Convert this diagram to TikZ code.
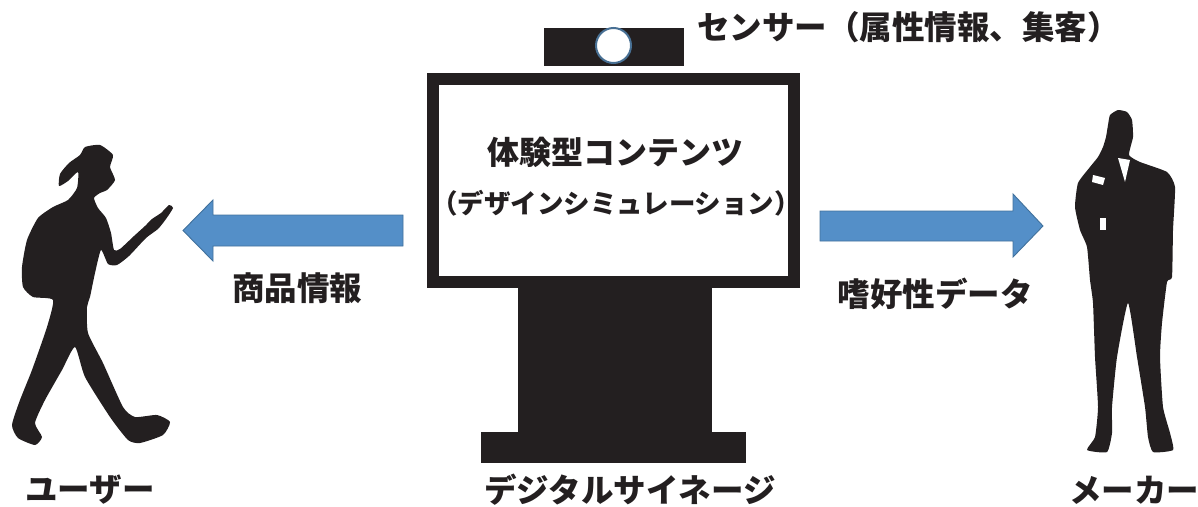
\documentclass[tikz,border=0pt]{standalone}
\usepackage{fontspec}
\setmainfont{Noto Sans CJK JP}
\usepackage{tikz}
\usetikzlibrary{positioning}
\definecolor{ink}{RGB}{35, 31, 32}
\definecolor{flowfill}{RGB}{84, 143, 200}
\definecolor{flowline}{RGB}{65, 113, 156}
\definecolor{lensline}{RGB}{72, 112, 148}
\tikzstyle{caption} = [inner sep=0pt, text=ink, font=\bfseries\fontsize{32.5}{32.5}\selectfont]
\tikzstyle{screentext} = [inner sep=0pt, text=ink, font=\bfseries\fontsize{26.5}{26.5}\selectfont]
\tikzstyle{block} = [rectangle, inner sep=0pt, draw=none, fill=ink]
\tikzstyle{flow} = [draw=flowline, fill=flowfill, line width=0.9pt, line join=miter]
\tikzstyle{person} = [fill=ink, draw=none]

\begin{document}
\begin{tikzpicture}[x=1pt, y=-1pt]
    \useasboundingbox (0,0) rectangle (1198,506);

    % Sensor bar and lens
    \node[block, minimum width=140pt, minimum height=38pt] (sensor) at (614, 47) {};
    \node[circle, draw=lensline, line width=2pt, fill=white, minimum size=35pt, inner sep=0pt] (lens) at (613.5, 45.5) {};
    \node[caption, anchor=west] (sensorlabel) at (697, 27) {センサー（属性情報、集客）};

    % Signage: screen, stand, base
    \node[rectangle, draw=ink, line width=12pt, fill=white, minimum width=361pt, minimum height=203pt, inner sep=0pt] (screen) at (613.5, 180.5) {};
    \node[block, minimum width=194pt, minimum height=144pt] (stand) at (615, 360) {};
    \node[block, minimum width=265pt, minimum height=31pt] (base) at (613.5, 447.5) {};

    % Screen contents
    \node[caption, font=\bfseries\fontsize{32}{32}\selectfont] (content) at (615, 152) {体験型コンテンツ};
    \node[screentext] (sim) at (616, 203) {（デザインシミュレーション）};

    % Flow arrows
    \draw[flow] (403,215) -- (213,215) -- (213,200) -- (183,230.5) -- (213,261) -- (213,246) -- (403,246) -- cycle;
    \draw[flow] (820,211) -- (1013,211) -- (1013,194) -- (1043,226) -- (1013,257) -- (1013,241) -- (820,241) -- cycle;
    \node[caption] (product) at (297, 288) {商品情報};
    \node[caption] (prefs) at (935, 294) {嗜好性データ};

    % User (walking with phone)
    \fill[person] plot[smooth cycle, tension=0.35] coordinates {
        (85,147) (100,145) (113,155) (110,167) (115,180) (107,190) (100,193)
        (94,198) (98,208) (106,218) (111,233) (114,250) (120,249) (134,236)
        (145,226) (152,219) (161,213) (169,205) (173,208) (166,219) (158,229)
        (146,238) (129,256) (117,265) (108,264) (101,250) (95,273) (90,297)
        (87,307) (88,333) (103,363) (123,407) (135,417) (157,415) (170,422)
        (163,435) (140,443) (128,440) (110,417) (85,377) (75,347) (62,370)
        (45,400) (35,423) (42,437) (35,445) (18,438) (12,425) (20,400)
        (32,370) (47,327) (53,300) (33,297) (23,287) (22,267) (27,240)
        (38,218) (53,207) (68,200) (77,188) (78,172) (68,181) (59,186)
        (60,174) (69,163) (80,155)};

    % Maker (businessman on the phone)
    \fill[person] plot[smooth cycle, tension=0.3] coordinates {
        (1118,110) (1127,112) (1132,120) (1133,137) (1129,155) (1140,162)
        (1167,172) (1175,187) (1173,230) (1172,277) (1167,282) (1162,323)
        (1160,357) (1163,407) (1170,433) (1173,450) (1153,452) (1148,437)
        (1145,407) (1137,357) (1128,303) (1117,357) (1112,407) (1112,433)
        (1107,452) (1087,450) (1095,437) (1098,407) (1095,357) (1093,303)
        (1090,280) (1087,247) (1080,230) (1075,207) (1078,183) (1090,167)
        (1098,157) (1103,147) (1106,137) (1108,125) (1110,115)};
    \fill[white] (1118,158) -- (1130,160) -- (1125,182) -- cycle;
    \fill[white] (1093,175) -- (1105,178) -- (1103,185) -- (1092,182) -- cycle;
    \fill[white] (1100,218) rectangle (1106,230);

    % Names
    \node[caption] (user) at (90, 490) {ユーザー};
    \node[caption] (signage) at (630, 490) {デジタルサイネージ};
    \node[caption] (maker) at (1134, 490) {メーカー};
\end{tikzpicture}
\end{document}
